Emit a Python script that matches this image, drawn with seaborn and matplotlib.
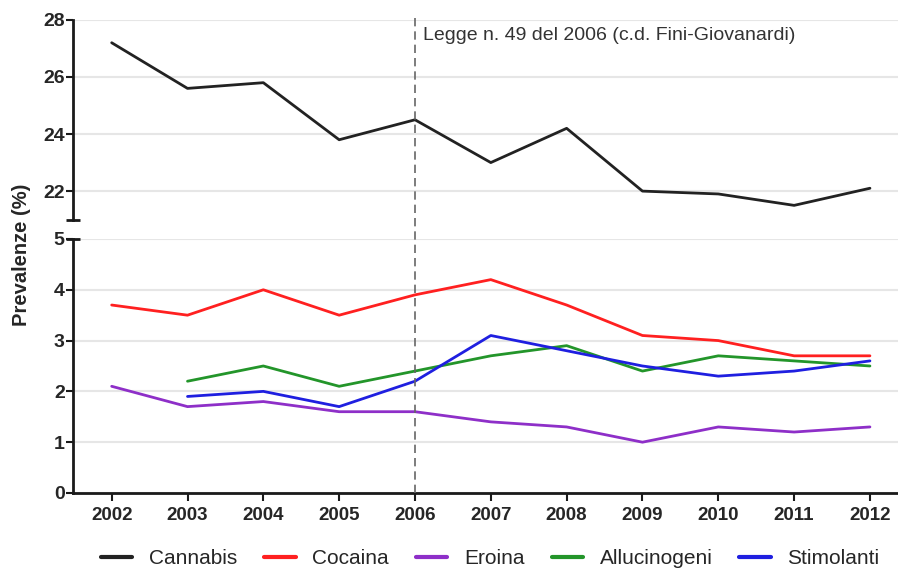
import numpy as np
import pandas as pd
import matplotlib
matplotlib.use("Agg")
import matplotlib.pyplot as plt
import matplotlib.transforms as mtransforms
from matplotlib.lines import Line2D
import seaborn as sns

# Prevalence (%) by year and substance
years = [2002, 2003, 2004, 2005, 2006, 2007, 2008, 2009, 2010, 2011, 2012]
cannabis = [27.2, 25.6, 25.8, 23.8, 24.5, 23.0, 24.2, 22.0, 21.9, 21.5, 22.1]
cocaina = [3.7, 3.5, 4.0, 3.5, 3.9, 4.2, 3.7, 3.1, 3.0, 2.7, 2.7]
eroina = [2.1, 1.7, 1.8, 1.6, 1.6, 1.4, 1.3, 1.0, 1.3, 1.2, 1.3]
allucinogeni = [np.nan, 2.2, 2.5, 2.1, 2.4, 2.7, 2.9, 2.4, 2.7, 2.6, 2.5]
stimolanti = [np.nan, 1.9, 2.0, 1.7, 2.2, 3.1, 2.8, 2.5, 2.3, 2.4, 2.6]

series_names = ["Cannabis", "Cocaina", "Eroina", "Allucinogeni", "Stimolanti"]
series_values = [cannabis, cocaina, eroina, allucinogeni, stimolanti]
colors = ["#222222", "#ff2020", "#8e2fc8", "#23952a", "#1f1fe0"]
law_year = 2006
law_label = "Legge n. 49 del 2006 (c.d. Fini-Giovanardi)"

rows = []
for name, vals in zip(series_names, series_values):
    for y, v in zip(years, vals):
        rows.append({"Anno": y, "Sostanza": name, "Prevalenza": v})
df = pd.DataFrame(rows).dropna()

sns.set_style("white")
plt.rcParams["font.family"] = ["Liberation Sans", "DejaVu Sans"]

fig = plt.figure(figsize=(8.98, 5.69), dpi=100)
left, width = 0.0813, 0.9187
ax_top = fig.add_axes([left, 0.614, width, 0.351])
ax_bot = fig.add_axes([left, 0.1336, width, 0.4464])

palette = dict(zip(series_names, colors))
xlim = (2001.49, 2012.37)

# upper panel: cannabis
sns.lineplot(data=df[df["Sostanza"] == "Cannabis"], x="Anno", y="Prevalenza",
             hue="Sostanza", palette=palette, linewidth=2, ax=ax_top, legend=False)
# lower panel: other substances
sns.lineplot(data=df[df["Sostanza"] != "Cannabis"], x="Anno", y="Prevalenza",
             hue="Sostanza", palette=palette, linewidth=2, ax=ax_bot, legend=False)

ax_top.set_ylim(21, 28)
ax_top.set_yticks([22, 24, 26, 28])
ax_bot.set_ylim(0, 5)
ax_bot.set_yticks([0, 1, 2, 3, 4, 5])
for ax in (ax_top, ax_bot):
    ax.set_xlim(*xlim)
    ax.set_xlabel("")
    ax.set_ylabel("")
    ax.yaxis.grid(True, color="#e6e6e6", linewidth=1.5)
    ax.set_axisbelow(True)
    ax.spines["right"].set_visible(False)
    ax.spines["top"].set_visible(False)
    ax.spines["left"].set_linewidth(2)
    ax.spines["left"].set_color("#1a1a1a")
    ax.tick_params(axis="y", which="major", direction="out", length=5, width=1.5,
                   color="#1a1a1a", left=True, labelsize=14, pad=1)
    for lab in ax.get_yticklabels():
        lab.set_fontweight("bold")

ax_top.spines["bottom"].set_visible(False)
ax_top.set_xticks([])
ax_bot.spines["bottom"].set_linewidth(2)
ax_bot.spines["bottom"].set_color("#1a1a1a")
ax_bot.set_xticks(years)
ax_bot.set_xticklabels([str(y) for y in years], fontweight="bold")
ax_bot.tick_params(axis="x", direction="out", length=6, width=1.5, color="#1a1a1a",
                   bottom=True, labelsize=13.5, pad=4)

# end caps on the broken y axis
ax_top.plot([0], [0], marker="_", markersize=10, markeredgewidth=2, color="#1a1a1a",
            transform=ax_top.transAxes, clip_on=False)
ax_bot.plot([0], [1], marker="_", markersize=10, markeredgewidth=2, color="#1a1a1a",
            transform=ax_bot.transAxes, clip_on=False)

# law marker spanning both panels
trans = mtransforms.blended_transform_factory(ax_bot.transData, fig.transFigure)
fig.add_artist(Line2D([law_year, law_year], [0.1336, 1 - 15 / 569], transform=trans,
                      color="#666666", linewidth=1.2, linestyle=(0, (5, 3))))
ax_top.text(law_year + 0.1, 27.45, law_label, fontsize=14, color="#333333",
            ha="left", va="center")

fig.text(0.024, 0.552, "Prevalenze (%)", rotation=90, fontsize=14.5, fontweight="bold",
         ha="center", va="center")

handles = [Line2D([], [], color=c, linewidth=3) for c in colors]
fig.legend(handles, series_names, loc="lower center", bbox_to_anchor=(0.546, -0.031),
           ncol=5, frameon=False, fontsize=15, handlelength=1.5, columnspacing=1.3,
           handletextpad=0.8)

fig.savefig("out.png", dpi=100)
